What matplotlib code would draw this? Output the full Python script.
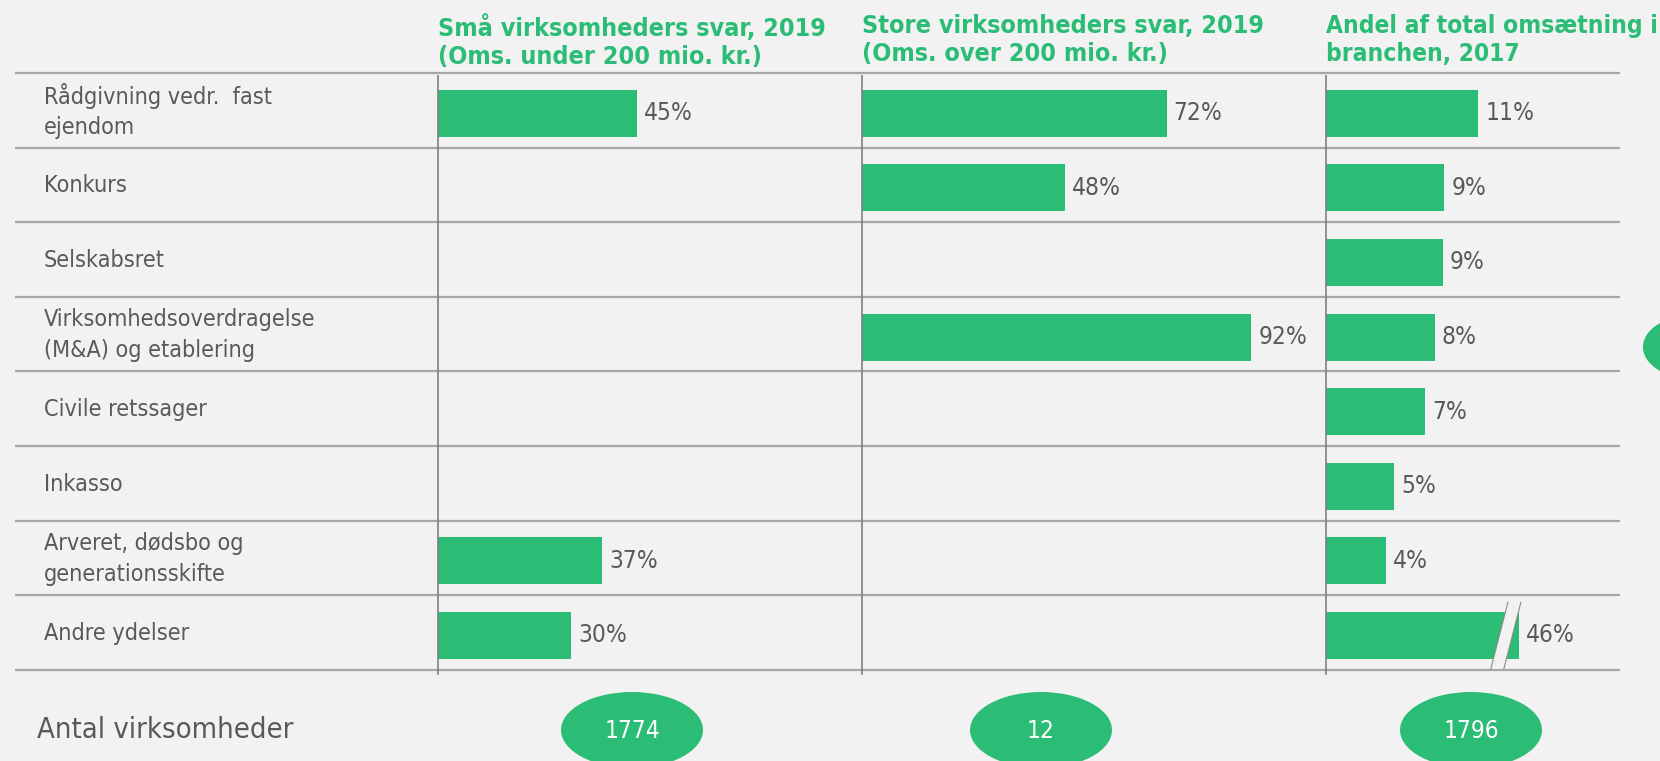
import matplotlib.pyplot as plt
from matplotlib import font_manager
from matplotlib.patches import Ellipse, Polygon

# data
categories = ["Rådgivning vedr.  fast\nejendom", "Konkurs", "Selskabsret",
              "Virksomhedsoverdragelse\n(M&A) og etablering", "Civile retssager",
              "Inkasso", "Arveret, dødsbo og\ngenerationsskifte", "Andre ydelser"]
small_2019 = [45, None, None, None, None, None, 37, 30]
large_2019 = [72, 48, None, 92, None, None, None, None]
turnover_2017 = [11.2, 8.7, 8.6, 8.0, 7.3, 5.0, 4.4, 46]
titles = ["Små virksomheders svar, 2019\n(Oms. under 200 mio. kr.)",
          "Store virksomheders svar, 2019\n(Oms. over 200 mio. kr.)",
          "Andel af total omsætning i\nbranchen, 2017"]
counts = ["1774", "12", "1796"]
count_label = "Antal virksomheder"

GREEN = "#2BBC76"
GREY_TXT = "#595959"
BG = "#F2F2F2"
W, H = 1660, 761
top, row_h = 73, 74.6
bottom = top + len(categories) * row_h

# use the condensed DejaVu cut if the system has it
condensed = any(f.name == 'DejaVu Sans' and 'Condensed' in f.fname
                for f in font_manager.fontManager.ttflist)
stretch = 'condensed' if condensed else 'normal'
k = 1.1 if condensed else 1.0

plt.rcParams['font.family'] = ['DejaVu Sans']
fig = plt.figure(figsize=(W / 100, H / 100), dpi=100, facecolor=BG)

bg = fig.add_axes([0, 0, 1, 1])
bg.set_xlim(0, W)
bg.set_ylim(H, 0)
bg.axis('off')
bg.set_facecolor(BG)

# row separators
for r in range(len(categories) + 1):
    y = top + r * row_h
    bg.plot([15, 1620], [y, y], color="#A6A6A6", lw=1.6, solid_capstyle='butt')

for i, c in enumerate(categories):
    bg.text(44, top + (i + 0.5) * row_h + 1, c, va='center', ha='left',
            fontsize=15.2 * k, fontstretch=stretch, color=GREY_TXT, linespacing=1.4)

# panels: left px, px per %, right px, values, ellipse centre, title size
panels = [(438, 4.43, 862, small_2019, 632, 16.4),
          (862, 4.23, 1326, large_2019, 1041, 16.4),
          (1326, 13.6, 1660, turnover_2017, 1471, 16.0)]
cap = 14.2  # length the broken bar is drawn at

for p, (left, scale, right, vals, ecx, tsize) in enumerate(panels):
    ax = fig.add_axes([left / W, 1 - bottom / H, (right - left) / W, (bottom - top) / H])
    ax.set_xlim(0, (right - left) / scale)
    ax.set_ylim(len(categories) - 0.5, -0.5)
    ax.axis('off')
    ax.patch.set_visible(False)
    ax.plot([0, 0], [-0.46, len(categories) - 0.45], color="#7F7F7F", lw=1.2, clip_on=False)
    for i, v in enumerate(vals):
        if v is None:
            continue
        shown = min(v, cap) if p == 2 else v
        yc = i + 0.04
        ax.barh(yc, shown, height=0.63, color=GREEN, left=0)
        ax.text(shown + 7 / scale, yc, f"{round(v)}%", va='center', ha='left',
                fontsize=16 * k, fontstretch=stretch, color=GREY_TXT)
        if shown < v:
            # break mark
            bx = shown - 1.45
            dy = 0.315 + 0.13
            sl = 8.5 / scale
            gap = 13 / scale
            xs_top = [bx + sl, bx + sl + gap]
            xs_bot = [bx - sl, bx - sl + gap]
            ax.add_patch(Polygon([(xs_top[0], yc - dy), (xs_top[1], yc - dy),
                                  (xs_bot[1], yc + dy), (xs_bot[0], yc + dy)],
                                 closed=True, facecolor=BG, edgecolor='none', zorder=3))
            for a, b in zip(xs_top, xs_bot):
                ax.plot([a, b], [yc - dy, yc + dy], color="#8C8C8C", lw=0.8, zorder=4,
                        clip_on=False)
    bg.text(left, 14, titles[p], va='top', ha='left', fontsize=tsize * k, fontweight='bold',
            fontstretch=stretch, color=GREEN, linespacing=1.22)
    bg.add_patch(Ellipse((ecx, 730), 142, 76, facecolor=GREEN, edgecolor='none'))
    bg.text(ecx, 731, counts[p], va='center', ha='center', fontsize=16 * k,
            fontstretch=stretch, color='white')

bg.text(37, 730, count_label, va='center', ha='left', fontsize=19 * k,
        fontstretch=stretch, color=GREY_TXT)
bg.add_patch(Ellipse((1690, 347), 94, 62, facecolor=GREEN, edgecolor='none'))

fig.savefig("out.png", dpi=100, facecolor=BG)
